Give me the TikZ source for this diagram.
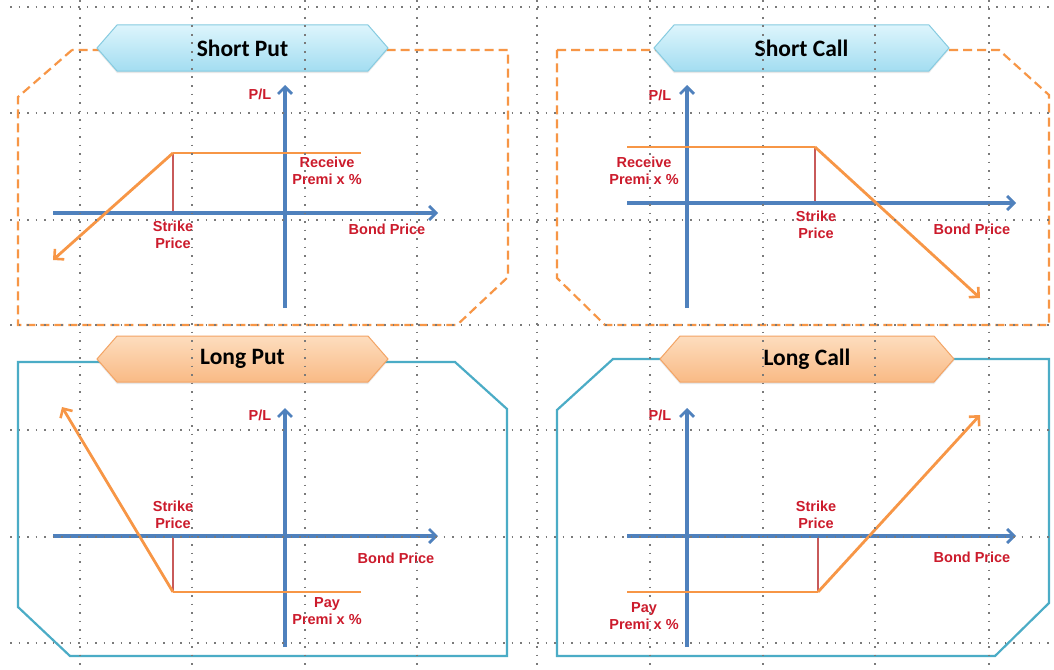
\documentclass[tikz,border=0pt]{standalone}
\usepackage{fontspec}
\setmainfont{Liberation Sans}
\newfontfamily\titlefont{Carlito}
\usetikzlibrary{arrows.meta,shadows}
\definecolor{axisblue}{HTML}{4F81BD}
\definecolor{payorange}{HTML}{F79646}
\definecolor{labelred}{HTML}{CC1B2C}
\definecolor{strikered}{HTML}{C85A5A}
\definecolor{frameteal}{HTML}{4BACC6}
\definecolor{bluetop}{HTML}{DDF5FC}
\definecolor{bluebot}{HTML}{A3DDF1}
\definecolor{blueedge}{HTML}{86CBE0}
\definecolor{orgtop}{HTML}{FDDDBE}
\definecolor{orgbot}{HTML}{F9BA85}
\definecolor{orgedge}{HTML}{F3A465}
\definecolor{gridgray}{HTML}{7A7A7A}
\newcommand{\mybanner}[6]{%
  \shadedraw[#5] (#2,#4) -- ({#2+20},{#4-23}) -- ({#3-20},{#4-23}) -- (#3,#4)
     -- ({#3-20},{#4+23}) -- ({#2+20},{#4+23}) -- cycle;
  \node[ttl] (#1) at ({(#2+#3)/2},#4) {#6};}
\begin{document}
\begin{tikzpicture}[x=1pt,y=-1pt,
  axisline/.style={draw=axisblue,line width=3.3pt,
    -{Straight Barb[length=7pt,width=14pt,line width=2.8pt]}},
  payline/.style={draw=payorange,line width=2.8pt,line join=round},
  payarrow/.style={payline,-{Straight Barb[length=7pt,width=14pt,line width=2.6pt]}},
  strikeline/.style={draw=strikered,line width=1.1pt},
  dashframe/.style={draw=payorange,line width=2.2pt,dash pattern=on 9pt off 5pt},
  solidframe/.style={draw=frameteal,line width=2.2pt},
  bluebanner/.style={top color=bluetop,bottom color=bluebot,draw=blueedge,line width=1pt,
    drop shadow={shadow xshift=0pt,shadow yshift=-2pt,opacity=0.18}},
  orangebanner/.style={top color=orgtop,bottom color=orgbot,draw=orgedge,line width=1pt,
    drop shadow={shadow xshift=0pt,shadow yshift=-2pt,opacity=0.18}},
  ttl/.style={font=\titlefont\bfseries\fontsize{23.5}{26}\selectfont,text=black,inner sep=0pt},
  lbl/.style={text=labelred,font=\bfseries\fontsize{14.5}{17}\selectfont,align=center,inner sep=0pt},
  gridline/.style={draw=gridgray,line width=1.7pt,dash pattern=on 1.7pt off 6.8pt}]
\useasboundingbox (0,0) rectangle (1054,669);
\fill[white] (0,0) rectangle (1054,669);

% ---------- frames ----------
\draw[dashframe] (72,50) -- (18,97) -- (18,325) -- (457,325) -- (508,277) -- (508,50) -- cycle;
\draw[dashframe] (557,50) -- (999,50) -- (1049,95) -- (1049,325) -- (605,325) -- (557,278) -- cycle;
\draw[solidframe] (18,362) -- (455,362) -- (507,409) -- (507,656) -- (70,656) -- (18,607) -- cycle;
\draw[solidframe] (613,359) -- (1049,359) -- (1049,603) -- (995,656) -- (557,656) -- (557,410) -- cycle;

% ---------- banners ----------
\mybanner{tSP}{97}{388}{48}{bluebanner}{Short Put}
\mybanner{tSC}{654}{949}{48}{bluebanner}{Short Call}
\mybanner{tLP}{97}{388}{359}{orangebanner}{Long Put}
\mybanner{tLC}{660}{954}{359}{orangebanner}{Long Call}

% ---------- Short Put ----------
\coordinate (spYb) at (285,308); \coordinate (spYt) at (285,85);
\coordinate (spXl) at (53,213);  \coordinate (spXr) at (438,213);
\coordinate (spE) at (361,153);  \coordinate (spK) at (173,153);
\coordinate (spKb) at (173,213); \coordinate (spT) at (53,260);
\draw[strikeline] (spK) -- (spKb);
\draw[axisline] (spXl) -- (spXr);
\draw[axisline] (spYb) -- (spYt);
\draw[payline] (spE) -- (spK);
\draw[payarrow] (spK) -- (spT);
\node[lbl] (spPL) at (260,94) {P/L};
\node[lbl] (spRec) at (327,171) {Receive\\Premi x \%};
\node[lbl] (spStr) at (173,235) {Strike\\Price};
\node[lbl] (spBP) at (387,229) {Bond Price};

% ---------- Short Call ----------
\coordinate (scYb) at (687,308); \coordinate (scYt) at (687,85);
\coordinate (scXl) at (627,203); \coordinate (scXr) at (1016,203);
\coordinate (scE) at (627,147);  \coordinate (scK) at (815,147);
\coordinate (scKb) at (815,203); \coordinate (scT) at (980,298);
\draw[strikeline] (scK) -- (scKb);
\draw[axisline] (scXl) -- (scXr);
\draw[axisline] (scYb) -- (scYt);
\draw[payline] (scE) -- (scK);
\draw[payarrow] (scK) -- (scT);
\node[lbl] (scPL) at (660,95) {P/L};
\node[lbl] (scRec) at (644,171) {Receive\\Premi x \%};
\node[lbl] (scStr) at (816,225) {Strike\\Price};
\node[lbl] (scBP) at (972,229) {Bond Price};

% ---------- Long Put ----------
\coordinate (lpYb) at (285,647); \coordinate (lpYt) at (285,408);
\coordinate (lpXl) at (53,536);  \coordinate (lpXr) at (438,536);
\coordinate (lpE) at (361,592);  \coordinate (lpK) at (173,592);
\coordinate (lpKt) at (173,536); \coordinate (lpT) at (62,407);
\draw[strikeline] (lpKt) -- (lpK);
\draw[axisline] (lpXl) -- (lpXr);
\draw[axisline] (lpYb) -- (lpYt);
\draw[payline] (lpE) -- (lpK);
\draw[payarrow] (lpK) -- (lpT);
\node[lbl] (lpPL) at (260,415) {P/L};
\node[lbl] (lpStr) at (173,515) {Strike\\Price};
\node[lbl] (lpBP) at (396,558) {Bond Price};
\node[lbl] (lpPay) at (327,611) {Pay\\Premi x \%};

% ---------- Long Call ----------
\coordinate (lcYb) at (687,647); \coordinate (lcYt) at (687,408);
\coordinate (lcXl) at (627,536); \coordinate (lcXr) at (1016,536);
\coordinate (lcE) at (627,592);  \coordinate (lcK) at (818,592);
\coordinate (lcKt) at (818,536); \coordinate (lcT) at (980,415);
\draw[strikeline] (lcKt) -- (lcK);
\draw[axisline] (lcXl) -- (lcXr);
\draw[axisline] (lcYb) -- (lcYt);
\draw[payline] (lcE) -- (lcK);
\draw[payarrow] (lcK) -- (lcT);
\node[lbl] (lcPL) at (660,415) {P/L};
\node[lbl] (lcStr) at (816,515) {Strike\\Price};
\node[lbl] (lcBP) at (972,557) {Bond Price};
\node[lbl] (lcPay) at (644,616) {Pay\\Premi x \%};

% ---------- dotted grid (on top) ----------
\foreach \gx in {80,192,305,417,537,650,763,875,989}
  \draw[gridline] (\gx,0) -- (\gx,669);
\foreach \gy in {7,113,220,325,430,537,643}
  \draw[gridline] (10,\gy) -- (1054,\gy);
\end{tikzpicture}
\end{document}
